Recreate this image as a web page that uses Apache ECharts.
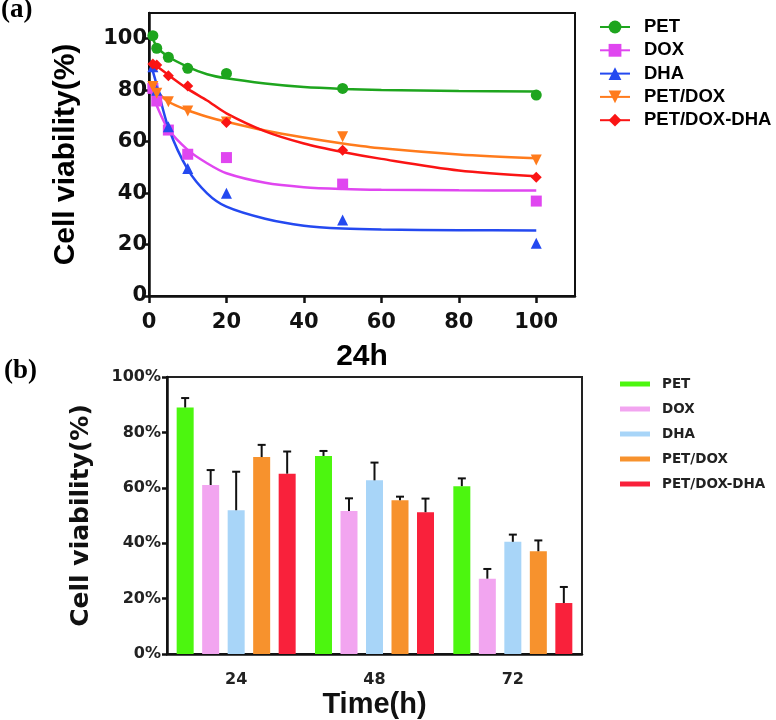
<!DOCTYPE html>
<html>
<head>
<meta charset="utf-8">
<script src="https://cdn.jsdelivr.net/npm/echarts@6/dist/echarts.min.js"></script>
<style>
  html, body { margin: 0; padding: 0; background: #fff; }
  #main { width: 776px; height: 720px; }
</style>
</head>
<body>
<div id="main"></div>
<script>
// ---- panel (a): 24h dose response ----
const groups = ['PET', 'DOX', 'DHA', 'PET/DOX', 'PET/DOX-DHA'];
const doseX = [1, 2, 5, 10, 20, 50, 100];
const ptPET = [101.2, 96.3, 92.8, 88.5, 86.5, 80.7, 78.1];
const ptDOX = [80.7, 75.8, 64.5, 55.1, 53.8, 43.5, 36.9];
const ptDHA = [89.1, 80, 65.8, 49.6, 39.9, 29.5, 20.5];
const ptPD = [81.4, 78.8, 75.5, 71.9, 67.6, 61.9, 52.9];
const ptPDD = [90.2, 89.8, 85.6, 81.6, 67.4, 56.7, 46.2];

// fitted curves
const curveX = [0.5, 2, 5, 10, 15, 20, 30, 40, 50, 60, 80, 100];
const fitPET = [102, 97, 93, 89.1, 86.2, 84.6, 82.6, 81.2, 80.5, 80.1, 79.7, 79.5];
const fitDOX = [80, 74, 64.8, 56.8, 51.6, 47.7, 44, 42.3, 41.6, 41.3, 41.1, 41];
const fitDHA = [90, 82, 65.5, 49.2, 39.9, 34.7, 30, 27.3, 26.2, 25.8, 25.6, 25.5];
const fitPD = [82, 79.5, 75.5, 72.2, 69.7, 67.7, 64.3, 61.6, 59.3, 57.4, 55, 53.5];
const fitPDD = [90.8, 89.3, 85.9, 80.5, 76, 71, 64, 59.3, 56, 53.3, 48.8, 46.5];

const xTicksA = [0, 20, 40, 60, 80, 100];
const yTicksA = [0, 20, 40, 60, 80, 100];

// ---- panel (b): bars at 24/48/72 h ----
const times = ['24', '48', '72'];
const barPET = [89.0, 71.5, 60.6];
const barDOX = [61.0, 51.6, 27.2];
const barDHA = [51.9, 62.7, 40.5];
const barPD = [71.1, 55.5, 37.1];
const barPDD = [65.1, 51.2, 18.4];
const sdPET = [3.4, 1.8, 2.8];
const sdDOX = [5.4, 4.6, 3.5];
const sdDHA = [13.9, 6.4, 2.6];
const sdPD = [4.4, 1.3, 3.9];
const sdPDD = [8.0, 4.9, 5.8];

const lineColors = ['#1ea51e', '#e046f0', '#2449f0', '#ff7b1c', '#fa1414'];
const barColors = ['#4cf60f', '#f2a5f0', '#a8d5f8', '#f7922d', '#f9213b'];
const symbols = ['circle', 'rect', 'triangle', 'triangle', 'diamond'];
const rotates = [0, 0, 0, 180, 0];

const points = [ptPET, ptDOX, ptDHA, ptPD, ptPDD];
const fits = [fitPET, fitDOX, fitDHA, fitPD, fitPDD];
const bars = [barPET, barDOX, barDHA, barPD, barPDD];
const sds = [sdPET, sdDOX, sdDHA, sdPD, sdPDD];

const barWidth = 17;
const barGap = 0.5;

let myChart = echarts.init(document.getElementById('main'));

let series = [];
// fitted curves (also used for the legend)
groups.forEach(function (g, i) {
  series.push({
    name: g,
    type: 'line',
    xAxisIndex: 0, yAxisIndex: 0,
    smooth: 0.3,
    showSymbol: false,
    symbol: symbols[i],
    symbolRotate: rotates[i],
    symbolSize: 11,
    lineStyle: { color: lineColors[i], width: 2.5 },
    itemStyle: { color: lineColors[i] },
    data: curveX.map(function (x, k) { return [x, fits[i][k]]; }),
    z: 2
  });
});
// measured points
groups.forEach(function (g, i) {
  series.push({
    name: g + ' pts',
    type: 'scatter',
    xAxisIndex: 0, yAxisIndex: 0,
    symbol: symbols[i],
    symbolRotate: rotates[i],
    symbolSize: 11,
    itemStyle: { color: lineColors[i], opacity: 1 },
    data: doseX.map(function (x, k) { return [x, points[i][k]]; }),
    z: 3
  });
});
groups.forEach(function (g, i) {
  series.push({
    name: g + ' ',
    type: 'bar',
    xAxisIndex: 1, yAxisIndex: 1,
    barWidth: barWidth,
    barGap: (barGap * 100) + '%',
    itemStyle: { color: barColors[i] },
    data: bars[i]
  });
});
// error bars, upper half only
groups.forEach(function (g, i) {
  series.push({
    name: g + ' err',
    type: 'custom',
    xAxisIndex: 1, yAxisIndex: 1,
    z: 5,
    data: times.map(function (t, k) { return [k, bars[i][k], bars[i][k] + sds[i][k]]; }),
    renderItem: function (params, api) {
      const off = (i - 2) * barWidth * (1 + barGap);
      const base = api.coord([api.value(0), api.value(1)]);
      const top = api.coord([api.value(0), api.value(2)]);
      const x = base[0] + off;
      return {
        type: 'group',
        children: [
          { type: 'line', shape: { x1: x, y1: base[1], x2: x, y2: top[1] }, style: { stroke: '#111', lineWidth: 2 } },
          { type: 'line', shape: { x1: x - 4, y1: top[1], x2: x + 4, y2: top[1] }, style: { stroke: '#111', lineWidth: 2 } }
        ]
      };
    }
  });
});

let option = {
  animation: false,
  backgroundColor: '#fff',
  graphic: [
    { type: 'text', left: 1, top: -3, style: { text: '(a)', font: 'bold 27px "Liberation Serif"', fill: '#000' } },
    { type: 'text', left: 4, top: 358, style: { text: '(b)', font: 'bold 27px "Liberation Serif"', fill: '#000' } }
  ],
  legend: [
    {
      orient: 'vertical',
      left: 594, top: 12,
      itemWidth: 30, itemHeight: 16,
      itemGap: 3.3,
      data: groups,
      textStyle: { fontFamily: 'Liberation Sans', fontWeight: 'bold', fontSize: 18.5, color: '#000', lineHeight: 20, padding: [0, 0, 0, 9] }
    },
    {
      orient: 'vertical',
      left: 615, top: 371,
      itemWidth: 30, itemHeight: 5,
      itemGap: 9,
      icon: 'rect',
      data: groups.map(function (g) { return g + ' '; }),
      formatter: function (n) { return n.trim(); },
      textStyle: { fontFamily: 'DejaVu Sans', fontWeight: 'bold', fontSize: 13.5, color: '#222', lineHeight: 16, padding: [0, 0, 0, 7] }
    }
  ],
  grid: [
    { left: 149, top: 13, right: 201, bottom: 424, show: true, borderColor: '#111', borderWidth: 2 },
    { left: 167, top: 377, right: 194, bottom: 66, show: true, borderColor: '#222', borderWidth: 2 }
  ],
  xAxis: [
    {
      gridIndex: 0, type: 'value', min: 0, max: 110,
      name: '24h', nameLocation: 'middle', nameGap: 46,
      nameTextStyle: { fontFamily: 'Liberation Sans', fontWeight: 'bold', fontSize: 30, color: '#000' },
      axisLine: { lineStyle: { color: '#111', width: 2.5 } },
      axisTick: { length: 7, lineStyle: { width: 2.5, color: '#111' }, customValues: xTicksA },
      axisLabel: { customValues: xTicksA, margin: 16, fontFamily: 'DejaVu Sans', fontWeight: 'bold', fontSize: 21, color: '#111' },
      splitLine: { show: false }
    },
    {
      gridIndex: 1, type: 'category', data: times,
      name: 'Time(h)', nameLocation: 'middle', nameGap: 36,
      nameTextStyle: { fontFamily: 'Liberation Sans', fontWeight: 'bold', fontSize: 29, color: '#111' },
      axisLine: { lineStyle: { color: '#111', width: 2.5 } },
      axisTick: { alignWithLabel: true, length: 6, lineStyle: { width: 2.5, color: '#111' } },
      axisLabel: { margin: 18, fontFamily: 'DejaVu Sans', fontWeight: 'bold', fontSize: 16, color: '#222' }
    }
  ],
  yAxis: [
    {
      gridIndex: 0, type: 'value', min: 0, max: 110,
      name: 'Cell viability(%)', nameLocation: 'middle', nameGap: 68,
      nameTextStyle: { fontFamily: 'Liberation Sans', fontWeight: 'bold', fontSize: 30, color: '#000' },
      axisLine: { show: true, lineStyle: { color: '#111', width: 2.5 } },
      axisTick: { show: true, length: 7, lineStyle: { width: 2.5, color: '#111' }, customValues: yTicksA },
      axisLabel: { customValues: yTicksA, margin: 2, fontFamily: 'DejaVu Sans', fontWeight: 'bold', fontSize: 21, color: '#111' },
      splitLine: { show: false }
    },
    {
      gridIndex: 1, type: 'value', min: 0, max: 100, interval: 20,
      name: 'Cell viability(%)', nameLocation: 'middle', nameGap: 73,
      nameTextStyle: { fontFamily: 'DejaVu Sans', fontWeight: 'bold', fontSize: 25, color: '#111' },
      axisLine: { show: true, lineStyle: { color: '#111', width: 2.5 } },
      axisTick: { show: true, length: 5, lineStyle: { width: 2.5, color: '#111' } },
      axisLabel: { formatter: '{value}%', margin: 6, fontFamily: 'DejaVu Sans', fontWeight: 'bold', fontSize: 16, color: '#222' },
      splitLine: { show: false }
    }
  ],
  series: series
};
myChart.setOption(option);
</script>
</body>
</html>
